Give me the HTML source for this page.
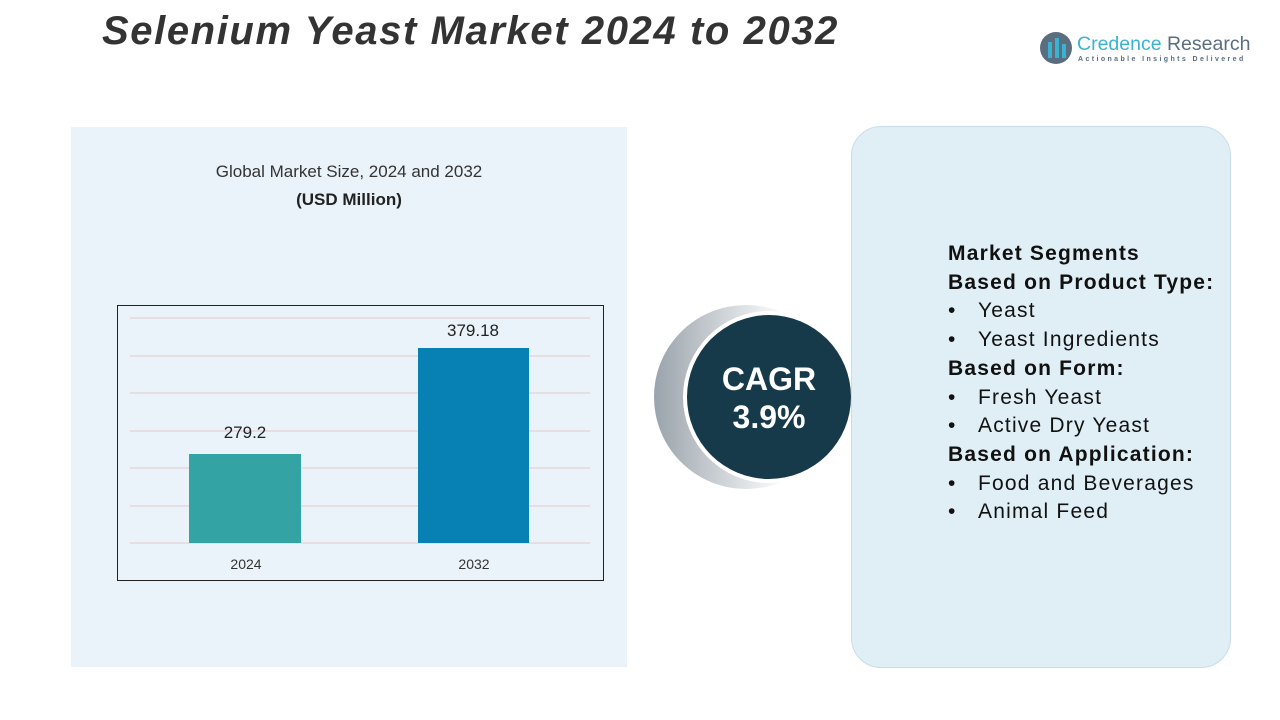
<!DOCTYPE html>
<html><head><style>
body{margin:0;width:1280px;height:720px;background:#fff;position:relative;overflow:hidden;font-family:"Liberation Sans",sans-serif}
.abs{position:absolute}
.b{display:inline-block;width:30px;letter-spacing:0}
</style></head><body>
<div class="abs" style="left:71px;top:127px;width:556px;height:540px;background:#eaf3f9"></div>
<div class="abs" style="left:102px;top:9px;font-size:40px;letter-spacing:1.6px;font-weight:bold;font-style:italic;color:#333">Selenium Yeast Market 2024 to 2032</div>
<div class="abs" style="left:1040px;top:32px;width:32px;height:32px;border-radius:50%;background:#5a6e80"></div>
<div class="abs" style="left:1048px;top:42px;width:4px;height:16px;background:#3bb3d0"></div>
<div class="abs" style="left:1055px;top:38px;width:4px;height:20px;background:#3bb3d0"></div>
<div class="abs" style="left:1062px;top:44px;width:4px;height:14px;background:#3bb3d0"></div>
<div class="abs" style="left:1077px;top:33px;font-size:19.5px;color:#3bb3d0">Credence <span style="color:#5a6e80">Research</span></div>
<div class="abs" style="left:1078px;top:56px;font-size:7px;letter-spacing:2.4px;color:#5a6e80;font-weight:bold">Actionable Insights Delivered</div>
<div class="abs" style="left:71px;width:556px;top:162px;text-align:center;font-size:17px;color:#333">Global Market Size, 2024 and 2032</div>
<div class="abs" style="left:71px;width:556px;top:190px;text-align:center;font-size:17px;font-weight:bold;color:#222">(USD Million)</div>
<svg class="abs" style="left:0;top:0" width="1280" height="720">
<rect x="117.5" y="305.5" width="486" height="275" fill="none" stroke="#222" stroke-width="1"/>
<g stroke="#e3c8c8" stroke-width="1">
<line x1="130" x2="590" y1="318" y2="318"/><line x1="130" x2="590" y1="356" y2="356"/><line x1="130" x2="590" y1="393" y2="393"/><line x1="130" x2="590" y1="431" y2="431"/><line x1="130" x2="590" y1="468" y2="468"/><line x1="130" x2="590" y1="506" y2="506"/><line x1="130" x2="590" y1="543" y2="543"/></g>
<rect x="189" y="454" width="112" height="89" fill="#33a3a3"/>
<rect x="418" y="348" width="111" height="195" fill="#0780b3"/>
<g font-size="17" fill="#222" text-anchor="middle" font-family="Liberation Sans"><text x="245" y="438">279.2</text><text x="473" y="336">379.18</text></g>
<g font-size="14" fill="#333" text-anchor="middle" font-family="Liberation Sans"><text x="246" y="569">2024</text><text x="474" y="569">2032</text></g>
<defs><linearGradient id="g" x1="0" x2="1"><stop offset="0" stop-color="#9aa3ab"/><stop offset="0.6" stop-color="#eef0f2"/><stop offset="1" stop-color="#fff" stop-opacity="0"/></linearGradient></defs>
<circle cx="746" cy="397" r="92" fill="url(#g)"/>
<circle cx="769" cy="397" r="86" fill="#fff"/>
<circle cx="769" cy="397" r="82" fill="#173a4b"/>
<g fill="#fff" font-weight="bold" font-size="32" text-anchor="middle" font-family="Liberation Sans"><text x="769" y="390">CAGR</text><text x="769" y="428">3.9%</text></g>
</svg>
<div class="abs" style="left:851px;top:126px;width:378px;height:540px;border-radius:30px;background:#e0eef6;border:1px solid #c8dde9"></div>
<div class="abs" style="left:948px;top:240px;font-size:21px;letter-spacing:1.2px;line-height:28.7px;color:#111;white-space:nowrap">
<b>Market Segments</b><br><b>Based on Product Type:</b><br><span class="b">•</span>Yeast<br><span class="b">•</span>Yeast Ingredients<br><b>Based on Form:</b><br><span class="b">•</span>Fresh Yeast<br><span class="b">•</span>Active Dry Yeast<br><b>Based on Application:</b><br><span class="b">•</span>Food and Beverages<br><span class="b">•</span>Animal Feed</div>
</body></html>
